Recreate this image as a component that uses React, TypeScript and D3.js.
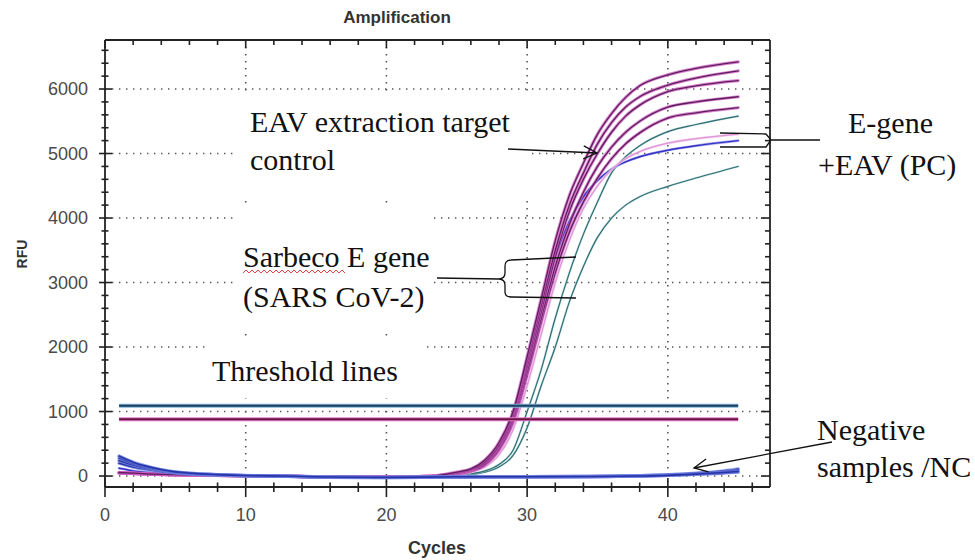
import * as d3 from "d3"

const posCycles = [1, 2, 3, 5, 8, 12, 16, 20, 23, 24, 25, 26, 27, 28, 29, 30, 31, 32, 33, 34, 35, 36, 37, 38, 40, 42, 45]

const purple1 = [55, 45, 35, 22, 10, 0, -15, -15, -5, 20, 60, 110, 250, 520, 1000, 1850, 2750, 3650, 4350, 4850, 5300, 5620, 5870, 6050, 6220, 6320, 6420]
const purple2 = [52, 43, 33, 21, 9, 0, -15, -14, -5, 15, 45, 95, 220, 480, 950, 1780, 2650, 3500, 4200, 4700, 5150, 5480, 5720, 5880, 6060, 6170, 6280]
const purple3 = [50, 41, 32, 20, 9, 0, -14, -14, -5, 15, 40, 90, 200, 450, 900, 1700, 2550, 3400, 4100, 4600, 5000, 5330, 5580, 5750, 5960, 6050, 6130]
const purple4 = [48, 40, 31, 19, 8, 0, -14, -13, -5, 10, 35, 80, 180, 420, 860, 1620, 2450, 3250, 3900, 4400, 4800, 5100, 5330, 5500, 5720, 5800, 5880]
const purple5 = [46, 38, 30, 19, 8, 0, -13, -13, -5, 10, 30, 75, 170, 400, 830, 1560, 2380, 3150, 3780, 4250, 4620, 4920, 5150, 5320, 5550, 5630, 5710]
const pinkPos = [50, 40, 32, 20, 9, 0, -14, -14, -5, 10, 25, 60, 140, 330, 720, 1400, 2200, 3000, 3650, 4150, 4500, 4750, 4920, 5030, 5160, 5230, 5300]
const bluePos = [120, 80, 55, 30, 12, 0, -15, -15, -5, 15, 45, 100, 230, 490, 980, 1800, 2650, 3400, 3950, 4330, 4580, 4760, 4870, 4950, 5050, 5120, 5200]
const teal1 = [45, 38, 30, 18, 8, 0, -12, -12, -5, 5, 15, 35, 80, 180, 400, 1000, 1650, 2450, 3150, 3750, 4250, 4700, 4950, 5120, 5340, 5450, 5580]
const teal2 = [42, 36, 28, 17, 7, 0, -12, -12, -5, 5, 10, 25, 60, 140, 320, 750, 1400, 2000, 2700, 3250, 3700, 4000, 4200, 4330, 4490, 4620, 4800]

// negative samples / NC
const negCycles = [1, 2, 3, 4, 5, 6, 8, 10, 13, 16, 20, 25, 30, 35, 38, 40, 42, 44, 45]
const neg1 = [310, 215, 150, 100, 65, 45, 22, 8, 0, -15, -20, -12, -10, -8, 0, 10, 30, 55, 70]
const neg2 = [240, 170, 120, 85, 55, 38, 18, 5, -5, -20, -25, -15, -12, -8, 5, 20, 45, 80, 110]
const neg3 = [280, 195, 135, 92, 60, 40, 20, 6, -2, -18, -22, -14, -10, -6, 3, 15, 38, 65, 90]
const neg4 = [200, 140, 100, 70, 48, 32, 15, 4, -5, -18, -20, -12, -10, -8, 0, 12, 28, 45, 60]

// threshold values (RFU) and their span in cycles
const thresholds = [1090, 879]
const thresholdSpan = [1, 45]

const yMajor = [0, 1000, 2000, 3000, 4000, 5000, 6000]
const xMajor = [0, 10, 20, 30, 40]

const x = d3.scaleLinear().domain([0, 47.26]).range([105, 770])
const y = d3.scaleLinear().domain([-170, 6760]).range([487, 40])

const line = d3
  .line<[number, number]>()
  .x((d) => x(d[0]))
  .y((d) => y(d[1]))
  .curve(d3.curveMonotoneX)

const zip = (cs: number[], vs: number[]) => cs.map((c, i) => [c, vs[i]] as [number, number])

const styles: Record<string, { halo: string; haloW: number; core: string; coreW: number }> = {
  purple: { halo: "#cf5cc2", haloW: 3.2, core: "#5e1d5c", coreW: 1.3 },
  pink: { halo: "#f3c6ee", haloW: 2.6, core: "#dd94d6", coreW: 1.2 },
  blue: { halo: "#8c8ce8", haloW: 2.6, core: "#3434c4", coreW: 1.4 },
  teal: { halo: "#b7d8da", haloW: 2.2, core: "#2f6d74", coreW: 1.2 },
  neg: { halo: "#6f7fe0", haloW: 3.4, core: "#2635a8", coreW: 1.6 },
}

const series = [
  { v: teal2, s: "teal", c: posCycles },
  { v: teal1, s: "teal", c: posCycles },
  { v: bluePos, s: "blue", c: posCycles },
  { v: pinkPos, s: "pink", c: posCycles },
  { v: purple5, s: "purple", c: posCycles },
  { v: purple4, s: "purple", c: posCycles },
  { v: purple3, s: "purple", c: posCycles },
  { v: purple2, s: "purple", c: posCycles },
  { v: purple1, s: "purple", c: posCycles },
  { v: neg4, s: "neg", c: negCycles },
  { v: neg2, s: "neg", c: negCycles },
  { v: neg3, s: "neg", c: negCycles },
  { v: neg1, s: "neg", c: negCycles },
]

const serif = "'Liberation Serif', 'Times New Roman', serif"
const sans = "'Liberation Sans', Arial, sans-serif"

// open chevron arrowhead at (tx,ty) pointing away from (fx,fy)
const arrowHead = (fx: number, fy: number, tx: number, ty: number, len = 15, ang = 0.45) => {
  const a = Math.atan2(ty - fy, tx - fx)
  const p1 = [tx - len * Math.cos(a - ang), ty - len * Math.sin(a - ang)]
  const p2 = [tx - len * Math.cos(a + ang), ty - len * Math.sin(a + ang)]
  return `M${p1[0]},${p1[1]}L${tx},${ty}L${p2[0]},${p2[1]}`
}

const squiggle = d3.range(243, 347, 3).map((px, i) => `${i ? "L" : "M"}${px},${i % 2 ? 270 : 273}`).join("")

export default function App() {
  const xMinor = d3.range(0, 47, 2)
  const yMinor = d3.range(0, 6700, 200)
  return (
    <svg width={975} height={560} style={{ position: "absolute", left: 0, top: 0, background: "#fff" }}>
      <rect width={975} height={560} fill="#fff" />
      <text x={397} y={23} textAnchor="middle" fontFamily={sans} fontWeight="bold" fontSize={17} fill="#333">
        Amplification
      </text>

      {/* dotted grid */}
      <g stroke="#555" strokeWidth={1.6} strokeDasharray="1.4 5.6">
        {yMajor.map((v) => (
          <line key={"gy" + v} x1={105} x2={770} y1={y(v)} y2={y(v)} />
        ))}
        {xMajor.slice(1).map((c) => (
          <line key={"gx" + c} x1={x(c)} x2={x(c)} y1={40} y2={487} />
        ))}
      </g>

      {/* text boxes covering the grid */}
      <g fill="#fff">
        <rect x={238} y={92} width={294} height={108} />
        <rect x={238} y={206} width={195} height={126} />
        <rect x={205} y={340} width={218} height={58} />
      </g>

      {/* frame */}
      <g stroke="#222" strokeWidth={1.8} fill="none">
        <line x1={105} x2={105} y1={40} y2={487} />
        <line x1={105} x2={770} y1={487} y2={487} />
        <line x1={105} x2={770} y1={40} y2={40} />
        <line x1={770} x2={770} y1={40} y2={487} />
      </g>
      <g stroke="#222" strokeWidth={1.6}>
        {yMinor.map((v) => {
          const maj = v % 1000 === 0
          return (
            <g key={"ty" + v}>
              <line x1={maj ? 99 : 101.5} x2={maj ? 112 : 108.5} y1={y(v)} y2={y(v)} />
              <line x1={maj ? 761 : 765} x2={770} y1={y(v)} y2={y(v)} />
            </g>
          )
        })}
        {xMinor.map((c) => {
          const maj = c % 10 === 0
          return (
            <g key={"tx" + c}>
              <line x1={x(c)} x2={x(c)} y1={maj ? 478 : 482.5} y2={maj ? 497 : 492} />
              <line x1={x(c)} x2={x(c)} y1={40} y2={maj ? 48 : 45} />
            </g>
          )
        })}
      </g>
      <g fontFamily={sans} fontSize={18} fill="#4a4a4a">
        {yMajor.map((v) => (
          <text key={"ly" + v} x={88} y={y(v)} dy="0.35em" textAnchor="end">
            {v}
          </text>
        ))}
        {xMajor.map((c) => (
          <text key={"lx" + c} x={x(c)} y={521} textAnchor="middle">
            {c}
          </text>
        ))}
      </g>
      <text x={437} y={554} textAnchor="middle" fontFamily={sans} fontWeight="bold" fontSize={18} fill="#333">
        Cycles
      </text>
      <text transform="translate(27,254) rotate(-90)" textAnchor="middle" fontFamily={sans} fontWeight="bold" fontSize={14} fill="#333">
        RFU
      </text>

      {/* amplification curves */}
      <g fill="none" strokeLinejoin="round" strokeLinecap="round">
        {series.map((s, i) => {
          const st = styles[s.s]
          const d = line(zip(s.c, s.v)) || ""
          return (
            <g key={"s" + i}>
              <path d={d} stroke={st.halo} strokeWidth={st.haloW} opacity={0.75} />
              <path d={d} stroke={st.core} strokeWidth={st.coreW} />
            </g>
          )
        })}
      </g>

      {/* threshold lines */}
      <g>
        <line x1={x(thresholdSpan[0])} x2={x(thresholdSpan[1])} y1={y(thresholds[0])} y2={y(thresholds[0])} stroke="#7fb2d6" strokeWidth={4} />
        <line x1={x(thresholdSpan[0])} x2={x(thresholdSpan[1])} y1={y(thresholds[0])} y2={y(thresholds[0])} stroke="#1d3f62" strokeWidth={2} />
        <line x1={x(thresholdSpan[0])} x2={x(thresholdSpan[1])} y1={y(thresholds[1])} y2={y(thresholds[1])} stroke="#e27ac8" strokeWidth={4} />
        <line x1={x(thresholdSpan[0])} x2={x(thresholdSpan[1])} y1={y(thresholds[1])} y2={y(thresholds[1])} stroke="#6a1446" strokeWidth={2} />
      </g>

      {/* annotations */}
      <g fontFamily={serif} fontSize={30} fill="#111">
        <text x={250} y={132}>EAV extraction target</text>
        <text x={250} y={170}>control</text>
        <text x={243} y={267}>Sarbeco E gene</text>
        <text x={243} y={307}>(SARS CoV-2)</text>
        <text x={212} y={381}>Threshold lines</text>
        <text x={848} y={133}>E-gene</text>
        <text x={818} y={175}>+EAV (PC)</text>
        <text x={817} y={440}>Negative</text>
        <text x={817} y={477}>samples /NC</text>
      </g>
      <path d={squiggle} stroke="#e03030" strokeWidth={0.9} fill="none" />
      <g stroke="#111" strokeWidth={1.3} fill="none">
        <path d="M508,149 L597,153" />
        <path d={arrowHead(508, 149, 597, 153)} />
        <path d="M720,133 L766,134 L771,140 L766,147 L720,147 M771,140 L820,140" />
        <path d="M437,278 L499,279" />
        <path d="M576,257 L511,260 Q505,260 505,266 L505,273 Q505,278.5 499,279 Q505,279.5 505,285 L505,292 Q505,297 511,297 L576,298" />
        <path d="M832,442 L694,468" />
        <path d={arrowHead(832, 442, 694, 468)} />
      </g>
    </svg>
  )
}
